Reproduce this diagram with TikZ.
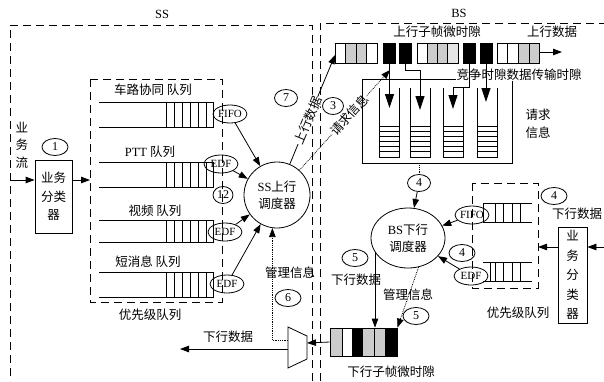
\documentclass[tikz,border=0pt]{standalone}
\usepackage{fontspec}
\setmainfont{Liberation Serif}
\newfontfamily\cjk{Noto Sans CJK SC}
\usetikzlibrary{arrows.meta,shapes.geometric}
\begin{document}
\begin{tikzpicture}[x=1pt,y=-1pt,
  every node/.style={inner sep=0pt, font=\fontsize{12.5}{14}\selectfont},
  lbl/.style={font=\fontsize{12.5}{14}\selectfont\cjk},
  num/.style={draw, ellipse, line width=0.8pt, minimum width=26pt, minimum height=17pt, font=\fontsize{12}{12}\selectfont},
  qtag/.style={draw, ellipse, line width=0.8pt, minimum width=34pt, minimum height=18pt, font=\fontsize{11}{11}\selectfont},
  frame/.style={dash pattern=on 8pt off 5pt, line width=1pt},
  ln/.style={line width=0.8pt},
  arr/.style={-{Triangle[length=9pt,width=6.5pt]}, line width=0.8pt},
  barr/.style={-{Triangle[length=14pt,width=9pt]}, line width=0.8pt},
  darr/.style={arr, densely dotted},
  blk/.style={draw, fill=black, line width=0.8pt, minimum width=12pt, minimum height=20pt},
  stip/.style={fill=gray!40}
]
\useasboundingbox (0,0) rectangle (604,381);
% frames
\draw[frame] (312,381) -- (312,25) -- (10,25) -- (10,381);
\draw[frame] (320,381) -- (320,23) -- (604,23);
\node (ssl) at (162,14) {SS};
\node (bsl) at (459,13) {BS};
% SS priority box
\draw[frame] (90,79) rectangle (222,302);
\foreach \t/\h in {102/25,162/25,220/22,272/25} {
  \draw[ln] (99,\t) -- (213,\t) -- (213,\t+\h) -- (99,\t+\h);
  \foreach \x in {166,174,182,190,198,206} \draw[ln] (\x,\t) -- (\x,\t+\h);
}
\node[lbl] (q1l) at (153,90) {车路协同 队列};
\node (q2l) at (150,152) {PTT {\cjk 队列}};
\node[lbl] (q3l) at (155,211) {视频 队列};
\node[lbl] (q4l) at (148,262) {短消息 队列};
\node[lbl] (pq1l) at (150,315) {优先级队列};
\node[qtag] (fifo1) at (230,114) {FIFO};
\node[qtag] (edf1) at (221,164) {EDF};
\node[num, minimum width=20pt] (n12) at (223,195) {12};
\node[qtag] (edf2) at (225,232) {EDF};
\node[qtag] (edf3) at (227,284) {EDF};
% SS classifier
\node[lbl, align=center, font=\fontsize{12.5}{17.5}\selectfont\cjk] (flow) at (22,145) {业\\务\\流};
\node[num] (c1) at (55,147) {1};
\node[draw, ln, minimum width=37pt, minimum height=73pt, align=center, font=\fontsize{12.5}{18.5}\selectfont\cjk] (cls1) at (53.5,196.5) {业务\\分类\\器};
\coordinate (in1) at (10,180);
\coordinate (pq1in) at (90,180);
\draw[arr] (in1) -- (in1 -| cls1.west);
\draw[arr] (cls1.east |- in1) -- (pq1in);
% SS scheduler
\node[draw, ln, circle, minimum size=66pt, align=center, font=\fontsize{12.5}{17}\selectfont] (sss) at (277,195) {SS{\cjk 上行}\\{\cjk 调度器}};
\draw[arr] (fifo1) -- (sss);
\draw[arr] (edf1) -- (sss);
\draw[arr] (edf2) -- (sss);
\draw[arr] (edf3) -- (sss);
\node[num, minimum width=23pt] (c7) at (286,98) {7};
\node[num, minimum width=21pt] (c3) at (333,106) {3};
% BS uplink queue
\foreach \x/\c in {335/white,345.5/gray!40,356/gray!40,366.5/white,
                   417/white,427.25/gray!40,437.5/gray!40,447.75/gray!20,
                   497/white,507.75/white,518.5/gray!40,529.25/gray!40}
  \draw[ln, fill=\c] (\x,43) rectangle ++(10.5,20);
\node[blk] (b1) at (389.5,53) {};
\node[blk] (b2) at (405,53) {};
\node[blk] (b3) at (469.5,53) {};
\node[blk] (b4) at (486,53) {};
\coordinate (ulq) at (335,55);
\coordinate (ulout1) at (540,52);
\coordinate (ulout2) at (562,52);
\draw[arr] (ulout1) -- (ulout2);
\node[lbl] (ulsub) at (437,32) {上行子帧微时隙};
\node[lbl] (uld) at (552,32) {上行数据};
\draw[arr] (sss) -- node[pos=0.4, sloped, fill=white, lbl, inner sep=0.5pt] (uldl) {上行数据} (ulq);
\coordinate (rqend) at (390,70);
\draw[darr] (sss) -- node[pos=0.55, sloped, fill=white, lbl, inner sep=0.5pt] (rql) {请求信息} (rqend);
% request box
\node[draw, ln, minimum width=150pt, minimum height=84pt] (reqbox) at (437,121) {};
\foreach \cx in {389.5,420,453,487} {
  \draw[ln] (\cx-10,88) -- (\cx-10,157) -- (\cx+10,157) -- (\cx+10,88);
  \foreach \y in {126,131,136,141,146,151} \draw[ln] (\cx-10,\y) -- (\cx+10,\y);
}
\node[lbl, fill=white, inner sep=0.5pt] (ctl) at (519,75) {竞争时隙数据传输时隙};
\draw[barr] (b1.south) -- (389.5,108);
\draw[barr] (b2.south) -- (405,70) -- (420,70) -- (420,110);
\draw[barr] (b3.south) -- (469.5,87) -- (453,87) -- (453,109);
\draw[barr] (b4.south) -- (486,102);
\node[lbl, align=center, font=\fontsize{12.5}{18}\selectfont\cjk] (rqi) at (538,124) {请求\\信息};
% BS scheduler
\node[num, minimum width=23pt] (c4a) at (419,183) {4};
\draw[ln, densely dotted] (reqbox.south -| c4a) -- (c4a);
\node[draw, ln, ellipse, minimum width=74pt, minimum height=60pt, align=center, font=\fontsize{12.5}{17}\selectfont] (bss) at (408,238) {BS{\cjk 下行}\\{\cjk 调度器}};
\draw[arr] (c4a) -- (bss);
% BS priority box
\draw[frame] (472,183) rectangle (538,288);
\draw[ln] (483,203) -- (532,203);
\draw[ln] (483,222) -- (532,222);
\foreach \x in {483,495,503,512,520} \draw[ln] (\x,203) -- (\x,222);
\draw[ln] (483,262) -- (532,262);
\draw[ln] (483,281) -- (532,281);
\foreach \x in {490,495,503,512,520} \draw[ln] (\x,262) -- (\x,281);
\node[qtag] (fifo2) at (472,215) {FIFO};
\node[qtag] (edf4) at (471,276) {EDF};
\node[num] (c4b) at (462,253) {4};
\node[num] (c4c) at (554,196) {4};
\node[lbl] (dld1) at (577,214) {下行数据};
\draw[arr] (fifo2) -- (bss);
\draw[arr] (edf4) -- (bss);
\node[draw, ln, minimum width=29pt, minimum height=96pt, align=center, font=\fontsize{12.5}{19.5}\selectfont\cjk] (cls2) at (572.5,275) {业\\务\\分\\类\\器};
\coordinate (in2) at (604,247);
\coordinate (pq2in) at (538,247);
\draw[arr] (in2) -- (in2 -| cls2.east);
\draw[arr] (cls2.west |- in2) -- (pq2in);
\node[lbl] (pq2l) at (518,313) {优先级队列};
% downlink
\node[num] (c5a) at (355,258) {5};
\node[lbl] (dld2) at (356,280) {下行数据};
\node[lbl] (mg2) at (408,295) {管理信息};
\node[num] (c5b) at (416,316) {5};
\fill[gray!40] (330,328) rectangle (342,356);
\fill[black] (352,328) rectangle (363,356);
\fill[gray!40] (363,328) rectangle (385,356);
\fill[black] (385,328) rectangle (397,356);
\draw[ln] (342,328) -- (342,356);
\draw[ln] (374,328) -- (374,356);
\node[draw, ln, minimum width=67pt, minimum height=28pt] (dlq) at (363.5,342) {};
\coordinate (bsl5) at (375,252);
\draw[arr] (bsl5) -- (bsl5 |- dlq.north);
\draw[darr] (bss.290) -- (dlq.north east);
\node[lbl] (dlsub) at (391,372) {下行子帧微时隙};
% mux
\draw[ln] (288,327) -- (307,336) -- (307,359) -- (288,368) -- cycle;
\coordinate (mxr) at (307,343);
\coordinate (mxl) at (288,349);
\coordinate (mxm) at (288,340);
\coordinate (dlout) at (180,349);
\draw[arr] (dlq.west) -- (mxr);
\draw[arr] (mxl) -- (dlout);
\node[lbl] (dld3) at (228,337) {下行数据};
\draw[darr] (mxm) -| (sss.262);
\node[lbl] (mg1) at (290,273) {管理信息};
\node[num] (c6) at (288,298) {6};
\end{tikzpicture}
\end{document}
